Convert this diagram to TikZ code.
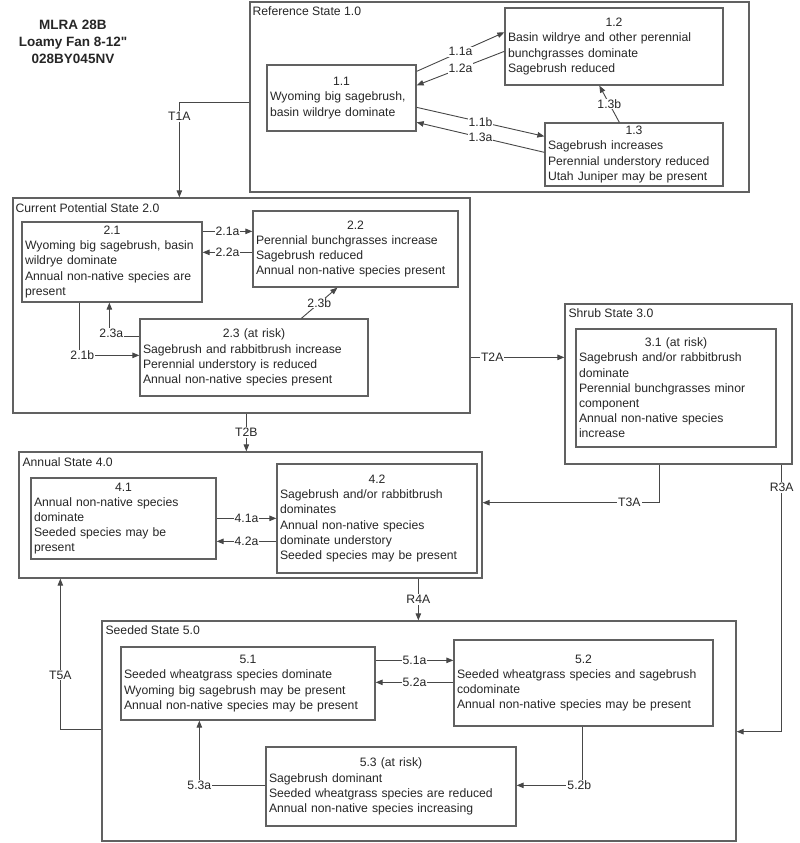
\documentclass[tikz,border=0pt]{standalone}
\usepackage{fontspec}
\setmainfont{Liberation Sans}
\newfontfamily\myPlainFam[Ligatures=ResetAll]{Liberation Sans}
\usetikzlibrary{calc,arrows.meta}
\newcommand\myBodyFont{\fontsize{12.2}{15.2}\selectfont}
\newcommand\myTitleFont{\myPlainFam\bfseries\fontsize{13.5}{17}\selectfont}
\begin{document}
\begin{tikzpicture}[x=1pt,y=-1pt,
  every node/.style={text=black!85},
  sbox/.style={draw=black!62, line width=1.3pt, inner sep=0pt},
  bbox/.style={draw=black!62, line width=1.3pt, inner xsep=3pt, inner ysep=0pt, align=left, font=\myBodyFont},
  stlbl/.style={inner sep=1pt, font=\myBodyFont, anchor=west},
  arr/.style={draw=black!72, line width=0.9pt, -{Triangle[length=7pt,width=5.5pt]}},
  lbl/.style={fill=white, inner sep=1pt, font=\myBodyFont}]
\useasboundingbox (0,0) rectangle (800,843);

% title
\node[font=\myTitleFont, align=center] (ttl) at (73,42) {MLRA 28B\\Loamy Fan 8-12"\\028BY045NV};

% states
\node[sbox, minimum width=499pt, minimum height=190pt] (S1) at (499.5,97) {};
\node[stlbl] (S1l) at ($(S1.north west)+(2,10)$) {Reference State 1.0};
\node[sbox, minimum width=457pt, minimum height=215pt] (S2) at (241.5,305.5) {};
\node[stlbl] (S2l) at ($(S2.north west)+(2,11)$) {Current Potential State 2.0};
\node[sbox, minimum width=227pt, minimum height=160pt] (S3) at (678.5,384) {};
\node[stlbl] (S3l) at ($(S3.north west)+(3,10)$) {Shrub State 3.0};
\node[sbox, minimum width=463pt, minimum height=126pt] (S4) at (250.5,515) {};
\node[stlbl] (S4l) at ($(S4.north west)+(3,11)$) {Annual State 4.0};
\node[sbox, minimum width=634pt, minimum height=220pt] (S5) at (419,731) {};
\node[stlbl] (S5l) at ($(S5.north west)+(3,10)$) {Seeded State 5.0};

% community phases
\node[bbox, text width=143pt, minimum height=66pt] (b11) at (341.5,98)
  {\makebox[\hsize]{1.1}\\Wyoming big sagebrush,\\basin wildrye dominate};
\node[bbox, text width=212pt, minimum height=77pt] (b12) at (614,46.5)
  {\makebox[\hsize]{1.2}\\Basin wildrye and other perennial\\bunchgrasses dominate\\Sagebrush reduced};
\node[bbox, text width=172pt, minimum height=63pt] (b13) at (634,154.5)
  {\makebox[\hsize]{1.3}\\Sagebrush increases\\Perennial understory reduced\\Utah Juniper may be present};
\node[bbox, text width=174pt, minimum height=80pt] (b21) at (112,262)
  {\makebox[\hsize]{2.1}\\Wyoming big sagebrush, basin\\wildrye dominate\\Annual non-native species are\\present};
\node[bbox, text width=199pt, minimum height=76pt] (b22) at (355.5,249)
  {\makebox[\hsize]{2.2}\\Perennial bunchgrasses increase\\Sagebrush reduced\\Annual non-native species present};
\node[bbox, text width=222pt, minimum height=77pt] (b23) at (254,357.5)
  {\makebox[\hsize]{2.3 (at risk)}\\Sagebrush and rabbitbrush increase\\Perennial understory is reduced\\Annual non-native species present};
\node[bbox, text width=194pt, minimum height=118pt] (b31) at (676,388)
  {\makebox[\hsize]{3.1 (at risk)}\\Sagebrush and/or rabbitbrush\\dominate\\Perennial bunchgrasses minor\\component\\Annual non-native species\\increase};
\node[bbox, text width=179pt, minimum height=81pt] (b41) at (123.5,518.5)
  {\makebox[\hsize]{4.1}\\Annual non-native species\\dominate\\Seeded species may be\\present};
\node[bbox, text width=194pt, minimum height=109pt] (b42) at (377,518.5)
  {\makebox[\hsize]{4.2}\\Sagebrush and/or rabbitbrush\\dominates\\Annual non-native species\\dominate understory\\Seeded species may be present};
\node[bbox, text width=248pt, minimum height=73pt] (b51) at (248,683.5)
  {\makebox[\hsize]{5.1}\\Seeded wheatgrass species dominate\\Wyoming big sagebrush may be present\\Annual non-native species may be present};
\node[bbox, text width=253pt, minimum height=86pt] (b52) at (583.5,683)
  {\makebox[\hsize]{5.2}\\Seeded wheatgrass species and sagebrush\\codominate\\Annual non-native species may be present};
\node[bbox, text width=244pt, minimum height=79pt] (b53) at (391,786.5)
  {\makebox[\hsize]{5.3 (at risk)}\\Sagebrush dominant\\Seeded wheatgrass species are reduced\\Annual non-native species increasing};

% state 1 pathways
\draw[arr] ($(b11.north east)+(0,7)$) -- node[lbl]{1.1a} ($(b12.north west)+(0,25)$);
\draw[arr] ($(b12.north west)+(0,44)$) -- node[lbl]{1.2a} ($(b11.north east)+(0,21)$);
\draw[arr] ($(b11.north east)+(0,43)$) -- node[lbl]{1.1b} ($(b13.north west)+(0,14)$);
\draw[arr] ($(b13.north west)+(0,30)$) -- node[lbl]{1.3a} ($(b11.north east)+(0,58)$);
\draw[arr] ($(b13.north west)+(75,0)$) -- node[lbl]{1.3b} ($(b12.south west)+(95,0)$);

% T1A
\coordinate (t1s) at ($(S1.north west)+(0,101)$);
\coordinate (t1e) at ($(S2.north west)+(167,0)$);
\draw[arr] (t1s) -- (t1s -| t1e) -- node[lbl,pos=0.15]{T1A} (t1e);

% state 2 pathways
\coordinate (c21a) at ($(b21.north east)+(0,10)$);
\draw[arr] (c21a) -- node[lbl]{2.1a} (c21a -| b22.west);
\coordinate (c22a) at ($(b22.north west)+(0,42)$);
\draw[arr] (c22a) -- node[lbl]{2.2a} (c22a -| b21.east);
\draw[arr] ($(b23.north west)+(162,0)$) -- node[lbl]{2.3b} ($(b22.south west)+(85,0)$);
\draw[arr] ($(b23.north west)+(0,18)$) -| node[lbl,pos=0.5,xshift=2pt,yshift=3pt]{2.3a} ($(b21.south west)+(88,0)$);
\draw[arr] ($(b21.south west)+(58,0)$) |- node[lbl,pos=0.5,xshift=3pt]{2.1b} ($(b23.north west)+(0,37)$);

% transitions
\coordinate (t2bs) at ($(S2.south west)+(234,0)$);
\draw[arr] (t2bs) -- node[lbl]{T2B} (t2bs |- S4.north);
\coordinate (t2as) at ($(S2.north east)+(0,160)$);
\draw[arr] (t2as) -- node[lbl,pos=0.23]{T2A} (t2as -| S3.west);
\coordinate (t3as) at ($(S3.south west)+(95,0)$);
\coordinate (t3ac) at ($(t3as)+(0,38)$);
\draw[arr] (t3as) -- (t3ac) -- node[lbl,pos=0.17]{T3A} (t3ac -| S4.east);
\coordinate (r3as) at ($(S3.south east)+(-11,0)$);
\coordinate (r3ac) at ($(r3as)+(0,267)$);
\draw[arr] (r3as) -- node[lbl,pos=0.086]{R3A} (r3ac) -- (r3ac -| S5.east);
\coordinate (r4as) at ($(S4.south west)+(400,0)$);
\draw[arr] (r4as) -- node[lbl]{R4A} (r4as |- S5.north);
\coordinate (t5as) at ($(S5.north west)+(0,109)$);
\coordinate (t5ac) at ($(t5as)+(-41,0)$);
\draw[arr] (t5as) -- (t5ac) -- node[lbl,pos=0.36]{T5A} (t5ac |- S4.south);

% state 4 pathways
\coordinate (c41a) at ($(b41.north east)+(0,41)$);
\draw[arr] (c41a) -- node[lbl]{4.1a} (c41a -| b42.west);
\coordinate (c42a) at ($(b42.north west)+(0,78)$);
\draw[arr] (c42a) -- node[lbl]{4.2a} (c42a -| b41.east);

% state 5 pathways
\coordinate (c51a) at ($(b51.north east)+(0,14)$);
\draw[arr] (c51a) -- node[lbl]{5.1a} (c51a -| b52.west);
\coordinate (c52a) at ($(b52.north west)+(0,43)$);
\draw[arr] (c52a) -- node[lbl]{5.2a} (c52a -| b51.east);
\draw[arr] ($(b52.south west)+(129,0)$) |- node[lbl,pos=0.5,xshift=-3pt]{5.2b} ($(b53.north east)+(0,39)$);
\draw[arr] ($(b53.north west)+(0,39)$) -| node[lbl,pos=0.5]{5.3a} ($(b51.south west)+(79,0)$);
\end{tikzpicture}
\end{document}
